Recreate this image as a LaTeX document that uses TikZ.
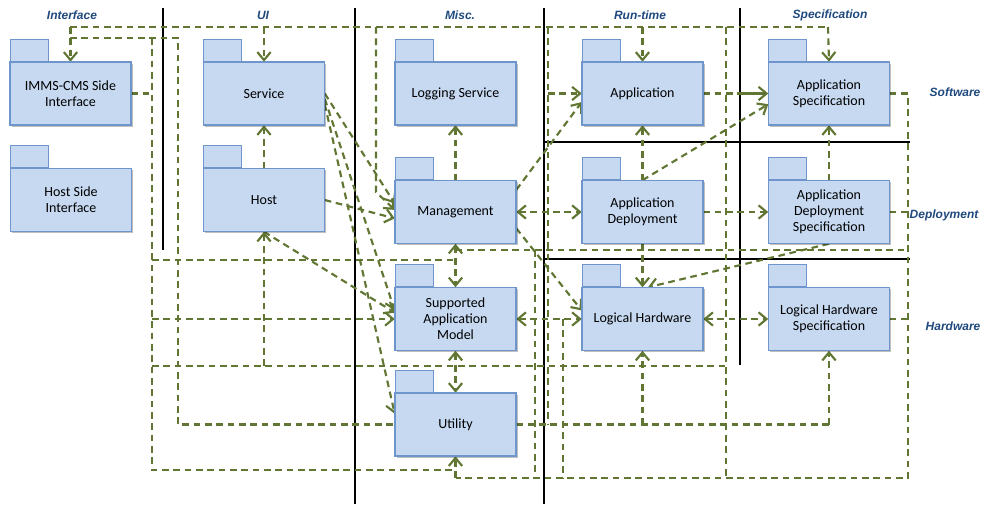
\documentclass[tikz,border=0pt]{standalone}
\usepackage{fontspec}
\setmainfont{Carlito}
\newfontfamily\hdfont{Liberation Sans}
\usetikzlibrary{arrows.meta,shadows,calc}
\definecolor{ln}{RGB}{96,118,50}
\definecolor{pf}{RGB}{198,217,241}
\definecolor{pb}{RGB}{110,150,205}
\definecolor{hd}{RGB}{31,73,125}
\begin{document}
\begin{tikzpicture}[x=0.75pt,y=-0.75pt,
 pbody/.style={draw=pb, fill=pf, line width=0.8pt, minimum width=90.75pt, minimum height=47.25pt,
   align=center, font=\fontsize{10.5}{12}\selectfont, inner sep=1pt,
   drop shadow={shadow xshift=1.2pt,shadow yshift=-1.2pt,opacity=0.25,fill=black}},
 pghost/.style={minimum width=90.75pt, minimum height=47.25pt, inner sep=1pt},
 ptab/.style={draw=pb, fill=pf, line width=0.8pt, minimum width=28.5pt, minimum height=16.5pt,
   anchor=south west, inner sep=0pt},
 hdr/.style={font=\hdfont\bfseries\itshape\fontsize{9}{10}\selectfont, text=hd, inner sep=1pt},
 blk/.style={draw=black, line width=2.2pt},
 dl/.style={draw=ln, line width=1.6pt, dash pattern=on 5pt off 3.5pt},
 sl/.style={draw=ln, line width=1.6pt},
 arr/.style={-{Straight Barb[length=6pt,width=10pt]}},
 darr/.style={{Straight Barb[length=6pt,width=10pt]}-{Straight Barb[length=6pt,width=10pt]}}
]
\useasboundingbox (0,0) rectangle (984,504);

% headers
\node[hdr] (hIf) at (72,15) {Interface};
\node[hdr] (hUI) at (263,15) {UI};
\node[hdr] (hMi) at (460,15) {Misc.};
\node[hdr] (hRt) at (640,15) {Run-time};
\node[hdr] (hSp) at (830,15) {Specification};
\node[hdr] (hSw) at (955,92) {Software};
\node[hdr] (hDp) at (944,215) {Deployment};
\node[hdr] (hHw) at (953,326) {Hardware};

% separators
\draw[blk] (163,8) -- (163,250);
\draw[blk] (355,8) -- (355,504);
\draw[blk] (544,8) -- (544,504);
\draw[blk] (740,8) -- (740,365);
\draw[blk] (544,142) -- (910,142);
\draw[blk] (544,259) -- (910,259);

% coordinates of the routing
\coordinate (busL) at (70,27);
\coordinate (busR) at (828,27);
\coordinate (b2L) at (70,38);
\coordinate (b2R) at (178,38);
\coordinate (v152t) at (152,38);
\coordinate (v152b) at (152,470);
\coordinate (v178b) at (178,424.5);
\coordinate (h260L) at (152,260);
\coordinate (h260R) at (455.5,260);
\coordinate (h320L) at (152,319);
\coordinate (h366L) at (152,366);
\coordinate (h366R) at (726,366);
\coordinate (v726t) at (726,27);
\coordinate (v726b) at (726,478);
\coordinate (v376t) at (376,27);
\coordinate (v376b) at (376,192);
\coordinate (h250L) at (455.5,250);
\coordinate (h250R) at (908,250);
\coordinate (v535t) at (535,250);
\coordinate (v535b) at (535,478);
\coordinate (v548t) at (548,27);
\coordinate (v548b) at (548,424.5);
\coordinate (v548m) at (548,93.5);
\coordinate (v563t) at (563,319);
\coordinate (v563b) at (563,478);
\coordinate (rT) at (908,93.5);
\coordinate (rB) at (908,478);
\coordinate (bB) at (455.5,478);
\coordinate (h423R) at (829,424.5);
\coordinate (h423m) at (642.5,424.5);
\coordinate (sj) at (740,93.5);

% invisible first pass of the boxes to define names
\node[pghost] (imms) at (70.5,93.5) {};
\node[pghost] (hsi) at (71,200) {};
\node[pghost] (svc) at (264,93.5) {};
\node[pghost] (host) at (264,200) {};
\node[pghost] (log) at (455.5,93.5) {};
\node[pghost] (mgmt) at (455.5,212) {};
\node[pghost] (sam) at (455.5,319) {};
\node[pghost] (util) at (455.5,424.5) {};
\node[pghost] (app) at (642.5,93.5) {};
\node[pghost] (appdep) at (642.5,212) {};
\node[pghost] (lh) at (642.5,319) {};
\node[pghost] (aspec) at (829,93.5) {};
\node[pghost] (ads) at (829,212) {};
\node[pghost] (lhs) at (829,319) {};

% top bus
\draw[dl] (busL) -- (busR);
\draw[dl,arr] (imms.north|-busL) -- (imms.north);
\draw[dl,arr] (svc.north|-busL) -- (svc.north);
\draw[dl,arr] (app.north|-busL) -- (app.north);
\draw[dl,arr] (busR) -- (aspec.north);
\draw[dl] (v726t) -- (v726b);
\draw[dl,arr] (v376t) -- (v376b) -- (mgmt.178);
\draw[dl] (v548t) -- (v548b);
\draw[dl,arr] (v548m) -- (app.west);

% left network
\draw[dl] (b2L) -- (b2R) -- (v178b) -- (util.west);
\draw[dl] (v152t) -- (v152b) -- (util.south|-v152b);
\draw[dl] (imms.east) -- (imms.east-|v152t);
\draw[dl] (h260L) -- (h260R);
\draw[dl,arr] (h320L) -- (sam.west);
\draw[dl] (h366L) -- (h366R);
\draw[dl,arr] (host.south|-h366L) -- (host.south);

% UI diagonals
\draw[dl,arr] (svc.east) -- (mgmt.172);
\draw[dl,arr] (svc.-5) -- (sam.172);
\draw[dl,arr] (svc.-10) -- (util.170);
\draw[dl,arr] (host.east) -- (mgmt.186);
\draw[dl,arr] (host.south) -- (sam.174);
\draw[dl,arr] (host.north) -- (svc.south);

% misc column
\draw[dl,arr] (mgmt.north) -- (log.south);
\draw[dl,darr] (mgmt.south) -- (sam.north);
\draw[dl,darr] (sam.south) -- (util.north);
\draw[dl,darr] (mgmt.east) -- (appdep.west);
\draw[dl,arr] (mgmt.20) -- (app.188);
\draw[dl,arr] (mgmt.-15) -- (lh.172);
\draw[dl,darr] (sam.east) -- (lh.west);

% mid right routing
\draw[dl] (h250L) -- (h250R);
\draw[dl] (v535t) -- (v535b);
\draw[dl] (v563t) -- (v563b);
\draw[dl] (util.east) -- (h423R);
\draw[dl,arr] (h423R) -- (lhs.south);
\draw[dl,arr] (h423m) -- (lh.south);
\draw[dl] (aspec.east) -- (rT) -- (rB) -- (bB);
\draw[dl,arr] (bB) -- (util.south);
\draw[dl] (ads.east) -- (ads.east-|rT);
\draw[dl] (lhs.east) -- (lhs.east-|rT);

% run-time / specification
\draw[dl,arr] (appdep.north) -- (app.south);
\draw[dl,arr] (appdep.south) -- (lh.north);
\draw[dl,arr] (appdep.east) -- (ads.west);
\draw[dl,arr] (appdep.north) -- (aspec.190);
\draw[dl,arr] (ads.south) -- (lh.80);
\draw[dl,arr] (ads.north) -- (aspec.south);
\draw[dl] (app.east) -- (sj);
\draw[sl,arr] (sj) -- (aspec.west);
\draw[dl,darr] (lh.east) -- (lhs.west);

% packages drawn on top
\foreach \n/\x/\y/\t in {
  imms/70.5/93.5/{IMMS-CMS Side\\Interface},
  hsi/71/200/{Host Side\\Interface},
  svc/264/93.5/{Service},
  host/264/200/{Host},
  log/455.5/93.5/{Logging Service},
  mgmt/455.5/212/{Management},
  sam/455.5/319/{Supported\\Application\\Model},
  util/455.5/424.5/{Utility},
  app/642.5/93.5/{Application},
  appdep/642.5/212/{Application\\Deployment},
  lh/642.5/319/{Logical Hardware},
  aspec/829/93.5/{Application\\Specification},
  ads/829/212/{Application\\Deployment\\Specification},
  lhs/829/319/{Logical Hardware\\Specification}}{
  \node[ptab] (\n tab) at (\n.north west) {};
  \node[pbody] (\n box) at (\x,\y) {\t};
}
\end{tikzpicture}
\end{document}
